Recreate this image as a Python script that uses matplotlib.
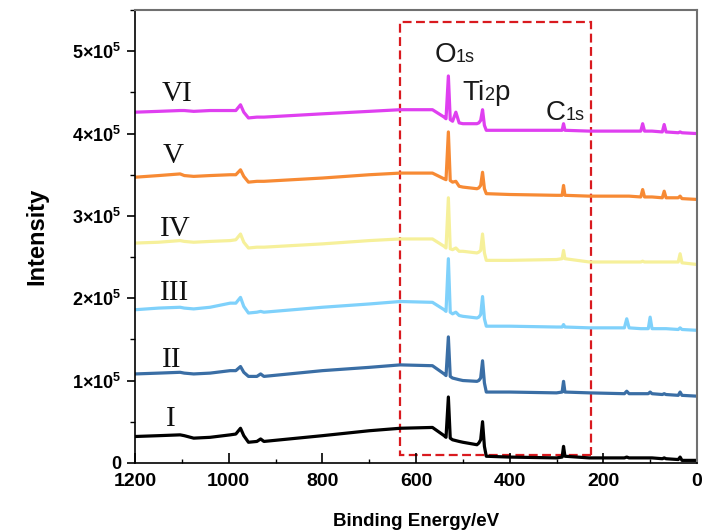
import numpy as np
import matplotlib
matplotlib.use("Agg")
import matplotlib.pyplot as plt
import matplotlib.transforms as mtransforms
from matplotlib.patches import Rectangle
from matplotlib.ticker import MultipleLocator, FuncFormatter

plt.rcParams['font.family'] = ['Liberation Sans', 'DejaVu Sans']
plt.rcParams['mathtext.fontset'] = 'custom'
plt.rcParams['mathtext.bf'] = 'Liberation Sans:bold'
plt.rcParams['mathtext.rm'] = 'Liberation Sans:bold'
plt.rcParams['mathtext.default'] = 'bf'

# binding energy points (eV)
be = [1200, 1150, 1104, 1095, 1075, 1040, 997, 985, 975, 968, 958, 940, 932, 925,
      800, 700, 634, 565, 540, 536, 531, 527, 522, 515, 508, 500, 470, 466, 462,
      458, 454, 450, 400, 300, 288, 285, 282, 230, 155, 150, 145, 120, 116, 112,
      104, 100, 96, 74, 70, 66, 40, 36, 32, 0]

# intensities in units of 1e5 counts
I_vals = [0.32, 0.33, 0.34, 0.33, 0.30, 0.31, 0.34, 0.35, 0.42, 0.33, 0.25, 0.26, 0.29, 0.26,
          0.33, 0.39, 0.42, 0.43, 0.33, 0.31, 0.80, 0.30, 0.28, 0.27, 0.26, 0.25, 0.22, 0.24, 0.28,
          0.50, 0.20, 0.08, 0.07, 0.06, 0.07, 0.20, 0.08, 0.06, 0.06, 0.07, 0.06, 0.06, 0.06, 0.06,
          0.06, 0.06, 0.06, 0.05, 0.06, 0.05, 0.04, 0.07, 0.03, 0.03]
II_vals = [1.08, 1.09, 1.10, 1.09, 1.08, 1.09, 1.12, 1.12, 1.17, 1.10, 1.05, 1.05, 1.08, 1.05,
           1.12, 1.16, 1.19, 1.18, 1.08, 1.06, 1.53, 1.05, 1.03, 1.02, 1.01, 1.00, 0.99, 1.00, 1.03,
           1.24, 0.97, 0.86, 0.86, 0.85, 0.86, 0.99, 0.86, 0.85, 0.84, 0.87, 0.84, 0.84, 0.84, 0.84,
           0.84, 0.86, 0.84, 0.83, 0.84, 0.83, 0.82, 0.86, 0.82, 0.81]
III_vals = [1.86, 1.88, 1.89, 1.88, 1.87, 1.89, 1.94, 1.94, 2.01, 1.90, 1.82, 1.83, 1.84, 1.83,
            1.89, 1.93, 1.96, 1.95, 1.86, 1.84, 2.48, 1.83, 1.81, 1.83, 1.79, 1.78, 1.76, 1.77, 1.80,
            2.02, 1.75, 1.66, 1.66, 1.65, 1.65, 1.68, 1.65, 1.64, 1.64, 1.75, 1.64, 1.63, 1.63, 1.63,
            1.63, 1.77, 1.63, 1.63, 1.63, 1.63, 1.62, 1.64, 1.62, 1.61]
IV_vals = [2.67, 2.68, 2.70, 2.69, 2.68, 2.69, 2.70, 2.71, 2.78, 2.68, 2.61, 2.62, 2.62, 2.62,
           2.66, 2.70, 2.72, 2.72, 2.63, 2.61, 3.22, 2.60, 2.59, 2.61, 2.57, 2.57, 2.55, 2.56, 2.58,
           2.78, 2.55, 2.46, 2.46, 2.47, 2.48, 2.58, 2.48, 2.44, 2.44, 2.44, 2.44, 2.44, 2.45, 2.44,
           2.44, 2.44, 2.44, 2.44, 2.44, 2.44, 2.44, 2.54, 2.43, 2.41]
V_vals = [3.47, 3.49, 3.51, 3.49, 3.48, 3.49, 3.50, 3.50, 3.56, 3.48, 3.41, 3.42, 3.42, 3.42,
          3.46, 3.50, 3.52, 3.52, 3.45, 3.44, 4.02, 3.43, 3.41, 3.42, 3.36, 3.35, 3.33, 3.34, 3.37,
          3.53, 3.33, 3.27, 3.26, 3.25, 3.25, 3.37, 3.25, 3.24, 3.24, 3.24, 3.24, 3.23, 3.32, 3.23,
          3.23, 3.23, 3.23, 3.22, 3.30, 3.22, 3.22, 3.24, 3.21, 3.20]
VI_vals = [4.26, 4.27, 4.28, 4.28, 4.27, 4.28, 4.28, 4.28, 4.35, 4.26, 4.19, 4.20, 4.20, 4.20,
           4.24, 4.27, 4.29, 4.29, 4.20, 4.18, 4.70, 4.17, 4.15, 4.26, 4.13, 4.12, 4.12, 4.13, 4.16,
           4.29, 4.10, 4.04, 4.04, 4.04, 4.04, 4.12, 4.04, 4.03, 4.03, 4.03, 4.03, 4.03, 4.12, 4.03,
           4.03, 4.03, 4.03, 4.02, 4.11, 4.02, 4.01, 4.02, 4.01, 4.00]

names = ['I', 'II', 'III', 'IV', 'V', 'VI']
colors = ['#000000', '#3a6ea5', '#7fd1fb', '#f6f09a', '#f78a34', '#df3ff0']
# position of the roman numeral labels (eV, 1e5 counts)
label_x = [1123, 1121, 1115, 1115, 1119, 1111]
label_y = [0.45, 1.16, 1.98, 2.76, 3.64, 4.40]

# dashed box around the main peaks
box_lo, box_hi = 227, 634
box_bottom, box_top = 0.1, 5.36

fig = plt.figure(figsize=(7.04, 5.32), dpi=100)
ax = fig.add_axes([0.192, 0.130, 0.798, 0.851])

series = [I_vals, II_vals, III_vals, IV_vals, V_vals, VI_vals]
for vals, c in zip(series, colors):
    ax.plot(be, np.array(vals) * 1e5, color=c, lw=2.3, solid_joinstyle='round')

for n, x, y in zip(names, label_x, label_y):
    ax.text(x, y * 1e5, n, family='Liberation Serif', fontsize=21, ha='center',
            va='baseline', color='#111111')

ax.add_patch(Rectangle((box_lo, box_bottom * 1e5), box_hi - box_lo, (box_top - box_bottom) * 1e5,
                       fill=False, edgecolor='#d91a1f', lw=1.6, ls=(0, (4, 2))))

ax.set_xlim(1200, 0)
ax.set_ylim(0, 5.5e5)

# peak labels with small "subscripts"
renderer = fig.canvas.get_renderer()
def peak_label(x, y, parts):
    trans = ax.transData
    for s, size in parts:
        t = ax.text(x, y, s, fontsize=size, transform=trans, ha='left', va='baseline',
                    color='#1a1a1a')
        w = t.get_window_extent(renderer).width
        trans = mtransforms.offset_copy(trans, fig=fig, x=w, y=0, units='dots')

peak_label(561, 4.87e5, [('O', 20), ('1s', 13)])
peak_label(502, 4.41e5, [('Ti', 20), ('2', 13), ('p', 20)])
peak_label(324, 4.16e5, [('C', 20), ('1s', 13)])

ax.xaxis.set_major_locator(MultipleLocator(200))
ax.xaxis.set_minor_locator(MultipleLocator(100))
ax.yaxis.set_major_locator(MultipleLocator(1e5))
ax.yaxis.set_minor_locator(MultipleLocator(0.5e5))

def yfmt(v, pos):
    k = int(round(v / 1e5))
    if k == 0:
        return '0'
    return r'$%d{\times}10^{5}$' % k
ax.yaxis.set_major_formatter(FuncFormatter(yfmt))

ax.tick_params(axis='x', which='major', direction='in', length=7, width=1.2, labelsize=14, pad=7)
ax.tick_params(axis='x', which='minor', direction='in', length=3, width=1.0)
ax.tick_params(axis='y', which='major', direction='out', length=6, width=1.2, labelsize=13, pad=4)
ax.tick_params(axis='y', which='minor', direction='out', length=3.5, width=1.0)
for lab in ax.get_xticklabels():
    lab.set_fontweight('bold')
for lab in ax.get_yticklabels():
    lab.set_fontweight('bold')

for s in ['left', 'bottom']:
    ax.spines[s].set_color('black')
    ax.spines[s].set_linewidth(1.2)
for s in ['top', 'right']:
    ax.spines[s].set_color('#707070')
    ax.spines[s].set_linewidth(1.5)

ax.set_xlabel('Binding Energy/eV', fontsize=13.5, fontweight='bold', labelpad=17)
ax.set_ylabel('Intensity', fontsize=17, fontweight='bold', labelpad=17)

fig.savefig('out.png', dpi=100)
